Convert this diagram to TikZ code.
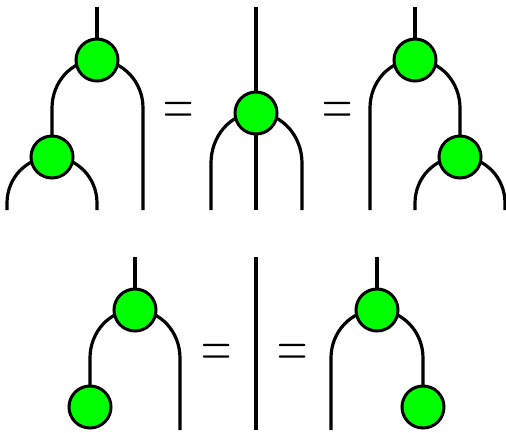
\documentclass[tikz,border=0pt]{standalone}
\usetikzlibrary{backgrounds}
\definecolor{spidergreen}{RGB}{0,255,0}

\begin{document}
\begin{tikzpicture}[x = 1pt, y = 1pt,
  spider/.style = {circle, draw, fill = spidergreen, line width = 3pt,
    minimum size = 42pt, inner sep = 0pt},
  wire/.style = {line width = 3.2pt},
  eqsign/.style = {font = \fontsize{42}{42}\selectfont, inner sep = 0pt, anchor = base}]
\useasboundingbox (0,0) rectangle (506,432);
%top row, left side
  \node[spider] (A1) at (97,372) {};
  \node[spider] (A2) at (52,275) {};
  \coordinate (A0) at (97,425);
  \coordinate (AL) at (7,222);
  \coordinate (AM) at (97,222);
  \coordinate (AR) at (143,222);
  \node[eqsign] (E1) at (179,306.2) {\scalebox{1}[1.55]{=}};
%top row, middle
  \node[spider] (B1) at (256,319) {};
  \coordinate (B0) at (256,425);
  \coordinate (BL) at (211,222);
  \coordinate (BM) at (256,222);
  \coordinate (BR) at (302,222);
  \node[eqsign] (E2) at (338,306.2) {\scalebox{1}[1.55]{=}};
%top row, right side
  \node[spider] (C1) at (415,372) {};
  \node[spider] (C2) at (460,275) {};
  \coordinate (C0) at (415,425);
  \coordinate (CL) at (370,222);
  \coordinate (CM) at (415,222);
  \coordinate (CR) at (505,222);
%bottom row, left side
  \node[spider] (D1) at (135,122) {};
  \node[spider] (D2) at (90,25) {};
  \coordinate (D0) at (135,175);
  \coordinate (DR) at (180,2);
  \node[eqsign] (E3) at (217,64.2) {\scalebox{1}[1.55]{=}};
%bottom row, plain wire
  \coordinate (W0) at (256,175);
  \coordinate (W1) at (256,2);
  \node[eqsign] (E4) at (293,64.2) {\scalebox{1}[1.55]{=}};
%bottom row, right side
  \node[spider] (F1) at (377,122) {};
  \node[spider] (F2) at (423,25) {};
  \coordinate (F0) at (377,175);
  \coordinate (FL) at (331,2);
\begin{pgfonlayer}{background}
  \draw[wire] (A0) -- (A1.center);
  \draw[wire] (A2.center) -- (52,324) to[out = 90, in = 180] (A1.center)
    to[out = 0, in = 90] (143,324) -- (AR);
  \draw[wire] (AL) -- (7,229) to[out = 90, in = 180] (A2.center)
    to[out = 0, in = 90] (97,229) -- (AM);
  \draw[wire] (B0) -- (BM);
  \draw[wire] (BL) -- (211,269) to[out = 90, in = 180] (B1.center)
    to[out = 0, in = 90] (302,269) -- (BR);
  \draw[wire] (C0) -- (C1.center);
  \draw[wire] (CL) -- (370,324) to[out = 90, in = 180] (C1.center)
    to[out = 0, in = 90] (460,324) -- (C2.center);
  \draw[wire] (CM) -- (415,229) to[out = 90, in = 180] (C2.center)
    to[out = 0, in = 90] (505,229) -- (CR);
  \draw[wire] (D0) -- (D1.center);
  \draw[wire] (D2.center) -- (90,74) to[out = 90, in = 180] (D1.center)
    to[out = 0, in = 90] (180,74) -- (DR);
  \draw[wire] (W0) -- (W1);
  \draw[wire] (F0) -- (F1.center);
  \draw[wire] (FL) -- (331,74) to[out = 90, in = 180] (F1.center)
    to[out = 0, in = 90] (423,74) -- (F2.center);
\end{pgfonlayer}
\end{tikzpicture}
\end{document}
